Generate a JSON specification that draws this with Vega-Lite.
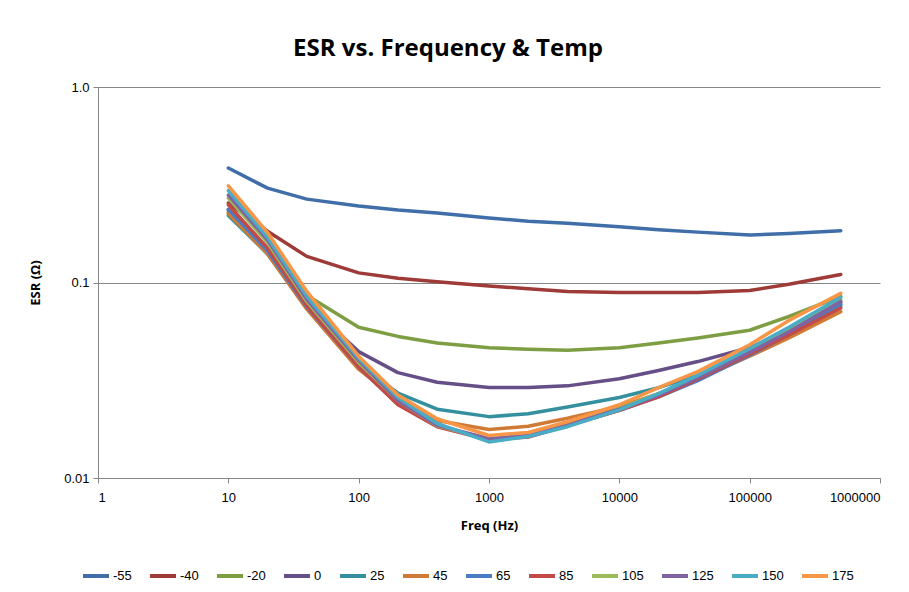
{
  "$schema": "https://vega.github.io/schema/vega-lite/v6.json",
  "autosize": "none",
  "width": 782,
  "height": 391,
  "padding": {"left": 98, "top": 87, "right": 29, "bottom": 114},
  "background": "white",
  "title": {"text": "ESR vs. Frequency & Temp", "font": "Open Sans", "fontSize": 24, "fontWeight": "bold", "color": "#000000", "anchor": "middle", "dx": -41, "offset": 20},
  "data": {"values": [
    {"f":10,"t":"-55","v":0.385},{"f":20,"t":"-55","v":0.304},{"f":40,"t":"-55","v":0.267},{"f":100,"t":"-55","v":0.246},{"f":200,"t":"-55","v":0.235},{"f":400,"t":"-55","v":0.227},{"f":1000,"t":"-55","v":0.214},{"f":2000,"t":"-55","v":0.206},{"f":4000,"t":"-55","v":0.201},{"f":10000,"t":"-55","v":0.193},{"f":20000,"t":"-55","v":0.186},{"f":40000,"t":"-55","v":0.181},{"f":100000,"t":"-55","v":0.175},{"f":200000,"t":"-55","v":0.178},{"f":500000,"t":"-55","v":0.184},
    {"f":10,"t":"-40","v":0.255},{"f":20,"t":"-40","v":0.183},{"f":40,"t":"-40","v":0.136},{"f":100,"t":"-40","v":0.112},{"f":200,"t":"-40","v":0.105},{"f":400,"t":"-40","v":0.101},{"f":1000,"t":"-40","v":0.096},{"f":2000,"t":"-40","v":0.093},{"f":4000,"t":"-40","v":0.090},{"f":10000,"t":"-40","v":0.089},{"f":20000,"t":"-40","v":0.089},{"f":40000,"t":"-40","v":0.089},{"f":100000,"t":"-40","v":0.091},{"f":200000,"t":"-40","v":0.098},{"f":500000,"t":"-40","v":0.110},
    {"f":10,"t":"-20","v":0.228},{"f":20,"t":"-20","v":0.150},{"f":40,"t":"-20","v":0.086},{"f":100,"t":"-20","v":0.059},{"f":200,"t":"-20","v":0.053},{"f":400,"t":"-20","v":0.049},{"f":1000,"t":"-20","v":0.0464},{"f":2000,"t":"-20","v":0.0455},{"f":4000,"t":"-20","v":0.045},{"f":10000,"t":"-20","v":0.0464},{"f":20000,"t":"-20","v":0.049},{"f":40000,"t":"-20","v":0.052},{"f":100000,"t":"-20","v":0.057},{"f":200000,"t":"-20","v":0.067},{"f":500000,"t":"-20","v":0.085},
    {"f":10,"t":"0","v":0.235},{"f":20,"t":"0","v":0.145},{"f":40,"t":"0","v":0.078},{"f":100,"t":"0","v":0.0443},{"f":200,"t":"0","v":0.0346},{"f":400,"t":"0","v":0.0309},{"f":1000,"t":"0","v":0.029},{"f":2000,"t":"0","v":0.029},{"f":4000,"t":"0","v":0.0296},{"f":10000,"t":"0","v":0.0322},{"f":20000,"t":"0","v":0.0355},{"f":40000,"t":"0","v":0.0394},{"f":100000,"t":"0","v":0.0465},{"f":200000,"t":"0","v":0.056},{"f":500000,"t":"0","v":0.079},
    {"f":10,"t":"25","v":0.220},{"f":20,"t":"25","v":0.140},{"f":40,"t":"25","v":0.074},{"f":100,"t":"25","v":0.038},{"f":200,"t":"25","v":0.0272},{"f":400,"t":"25","v":0.0225},{"f":1000,"t":"25","v":0.0206},{"f":2000,"t":"25","v":0.0213},{"f":4000,"t":"25","v":0.0231},{"f":10000,"t":"25","v":0.0258},{"f":20000,"t":"25","v":0.029},{"f":40000,"t":"25","v":0.0335},{"f":100000,"t":"25","v":0.043},{"f":200000,"t":"25","v":0.054},{"f":500000,"t":"25","v":0.077},
    {"f":10,"t":"45","v":0.225},{"f":20,"t":"45","v":0.140},{"f":40,"t":"45","v":0.073},{"f":100,"t":"45","v":0.036},{"f":200,"t":"45","v":0.025},{"f":400,"t":"45","v":0.0197},{"f":1000,"t":"45","v":0.0177},{"f":2000,"t":"45","v":0.0184},{"f":4000,"t":"45","v":0.0202},{"f":10000,"t":"45","v":0.0232},{"f":20000,"t":"45","v":0.027},{"f":40000,"t":"45","v":0.032},{"f":100000,"t":"45","v":0.042},{"f":200000,"t":"45","v":0.052},{"f":500000,"t":"45","v":0.071},
    {"f":10,"t":"65","v":0.237},{"f":20,"t":"65","v":0.145},{"f":40,"t":"65","v":0.075},{"f":100,"t":"65","v":0.037},{"f":200,"t":"65","v":0.024},{"f":400,"t":"65","v":0.0185},{"f":1000,"t":"65","v":0.0158},{"f":2000,"t":"65","v":0.0163},{"f":4000,"t":"65","v":0.0186},{"f":10000,"t":"65","v":0.0222},{"f":20000,"t":"65","v":0.026},{"f":40000,"t":"65","v":0.0315},{"f":100000,"t":"65","v":0.0425},{"f":200000,"t":"65","v":0.054},{"f":500000,"t":"65","v":0.076},
    {"f":10,"t":"85","v":0.250},{"f":20,"t":"85","v":0.150},{"f":40,"t":"85","v":0.076},{"f":100,"t":"85","v":0.037},{"f":200,"t":"85","v":0.0237},{"f":400,"t":"85","v":0.0183},{"f":1000,"t":"85","v":0.0157},{"f":2000,"t":"85","v":0.0162},{"f":4000,"t":"85","v":0.0185},{"f":10000,"t":"85","v":0.0222},{"f":20000,"t":"85","v":0.026},{"f":40000,"t":"85","v":0.032},{"f":100000,"t":"85","v":0.043},{"f":200000,"t":"85","v":0.054},{"f":500000,"t":"85","v":0.074},
    {"f":10,"t":"105","v":0.270},{"f":20,"t":"105","v":0.160},{"f":40,"t":"105","v":0.080},{"f":100,"t":"105","v":0.039},{"f":200,"t":"105","v":0.025},{"f":400,"t":"105","v":0.0185},{"f":1000,"t":"105","v":0.0158},{"f":2000,"t":"105","v":0.0164},{"f":4000,"t":"105","v":0.0187},{"f":10000,"t":"105","v":0.0227},{"f":20000,"t":"105","v":0.027},{"f":40000,"t":"105","v":0.033},{"f":100000,"t":"105","v":0.0445},{"f":200000,"t":"105","v":0.057},{"f":500000,"t":"105","v":0.082},
    {"f":10,"t":"125","v":0.280},{"f":20,"t":"125","v":0.165},{"f":40,"t":"125","v":0.082},{"f":100,"t":"125","v":0.040},{"f":200,"t":"125","v":0.025},{"f":400,"t":"125","v":0.0186},{"f":1000,"t":"125","v":0.0159},{"f":2000,"t":"125","v":0.0165},{"f":4000,"t":"125","v":0.0188},{"f":10000,"t":"125","v":0.0225},{"f":20000,"t":"125","v":0.0265},{"f":40000,"t":"125","v":0.0325},{"f":100000,"t":"125","v":0.044},{"f":200000,"t":"125","v":0.056},{"f":500000,"t":"125","v":0.080},
    {"f":10,"t":"150","v":0.295},{"f":20,"t":"150","v":0.170},{"f":40,"t":"150","v":0.085},{"f":100,"t":"150","v":0.041},{"f":200,"t":"150","v":0.0258},{"f":400,"t":"150","v":0.019},{"f":1000,"t":"150","v":0.0153},{"f":2000,"t":"150","v":0.0163},{"f":4000,"t":"150","v":0.0183},{"f":10000,"t":"150","v":0.0223},{"f":20000,"t":"150","v":0.027},{"f":40000,"t":"150","v":0.0335},{"f":100000,"t":"150","v":0.046},{"f":200000,"t":"150","v":0.059},{"f":500000,"t":"150","v":0.084},
    {"f":10,"t":"175","v":0.312},{"f":20,"t":"175","v":0.180},{"f":40,"t":"175","v":0.090},{"f":100,"t":"175","v":0.042},{"f":200,"t":"175","v":0.0266},{"f":400,"t":"175","v":0.0201},{"f":1000,"t":"175","v":0.0165},{"f":2000,"t":"175","v":0.0171},{"f":4000,"t":"175","v":0.0194},{"f":10000,"t":"175","v":0.0237},{"f":20000,"t":"175","v":0.029},{"f":40000,"t":"175","v":0.035},{"f":100000,"t":"175","v":0.048},{"f":200000,"t":"175","v":0.064},{"f":500000,"t":"175","v":0.088}
  ]},
  "mark": {"type": "line", "strokeWidth": 3.5, "strokeCap": "round", "strokeJoin": "round"},
  "encoding": {
    "x": {"field": "f", "type": "quantitative",
      "scale": {"type": "log", "domain": [1, 1000000], "nice": false},
      "axis": {"values": [1, 10, 100, 1000, 10000, 100000, 1000000], "format": "d", "grid": false, "title": "Freq (Hz)",
        "domainColor": "#868686", "tickColor": "#868686", "tickSize": 5, "labelPadding": 8,
        "labelFont": "Liberation Sans", "labelFontSize": 13, "labelColor": "#000000",
        "titleFont": "Open Sans", "titleFontSize": 13, "titleFontWeight": "bold", "titleColor": "#000000", "titlePadding": 15}},
    "y": {"field": "v", "type": "quantitative",
      "scale": {"type": "log", "domain": [0.01, 1], "nice": false},
      "axis": {"values": [0.01, 0.1, 1], "labelExpr": "datum.value == 1 ? '1.0' : toString(datum.value)", "grid": true, "gridColor": "#868686", "gridWidth": 1, "title": "ESR (Ω)",
        "domainColor": "#868686", "tickColor": "#868686", "tickSize": 5, "labelPadding": 4,
        "labelFont": "Liberation Sans", "labelFontSize": 13, "labelColor": "#000000",
        "titleFont": "Open Sans", "titleFontSize": 13, "titleFontWeight": "bold", "titleColor": "#000000", "titlePadding": 21}},
    "color": {"field": "t", "type": "nominal",
      "scale": {"domain": ["-55","-40","-20","0","25","45","65","85","105","125","150","175"],
        "range": ["#3F6EA8","#9E3B38","#7E9E44","#664E87","#34909F","#D07B35","#4A7DC4","#C24A47","#9BBB59","#8064A2","#4BACC6","#F79646"]},
      "legend": {"title": null, "orient": "none", "direction": "horizontal", "legendX": -17, "legendY": 474,
        "symbolType": "stroke", "symbolStrokeWidth": 4, "symbolSize": 676, "labelFont": "Liberation Sans", "labelFontSize": 13, "labelColor": "#000000", "labelOffset": 2, "columnPadding": 10}}
  },
  "config": {"view": {"stroke": null}}
}
